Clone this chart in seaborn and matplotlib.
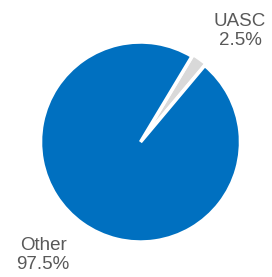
import seaborn as sns
import matplotlib.pyplot as plt

categories = ["UASC", "Other"]
shares = [2.5, 97.5]
colors = ["#d9d9d9", "#0070c0"]

sns.set_theme(style="white")
plt.rcParams['font.family'] = ['Liberation Sans', 'DejaVu Sans']

f = plt.figure(figsize=(2.72, 2.77), dpi=100)
ax = f.add_axes([0.0386, 0.018, 0.956, 0.9386])
labels = [f"{c}\n{v}%" for c, v in zip(categories, shares)]
wedges, texts = ax.pie(shares, labels=labels, colors=colors, startangle=50,
                       explode=[0.02, 0.0],
                       wedgeprops=dict(edgecolor="white", linewidth=2.5),
                       textprops=dict(color="#595959", fontsize=13.5, ha="center"))
# label placement as in the original
texts[0].set_position((0.995, 1.11))
texts[1].set_position((-0.975, -1.13))
ax.set_xlim(-1.3, 1.3)
ax.set_ylim(-1.3, 1.3)
ax.set_aspect("equal")
plt.savefig("out.png")
